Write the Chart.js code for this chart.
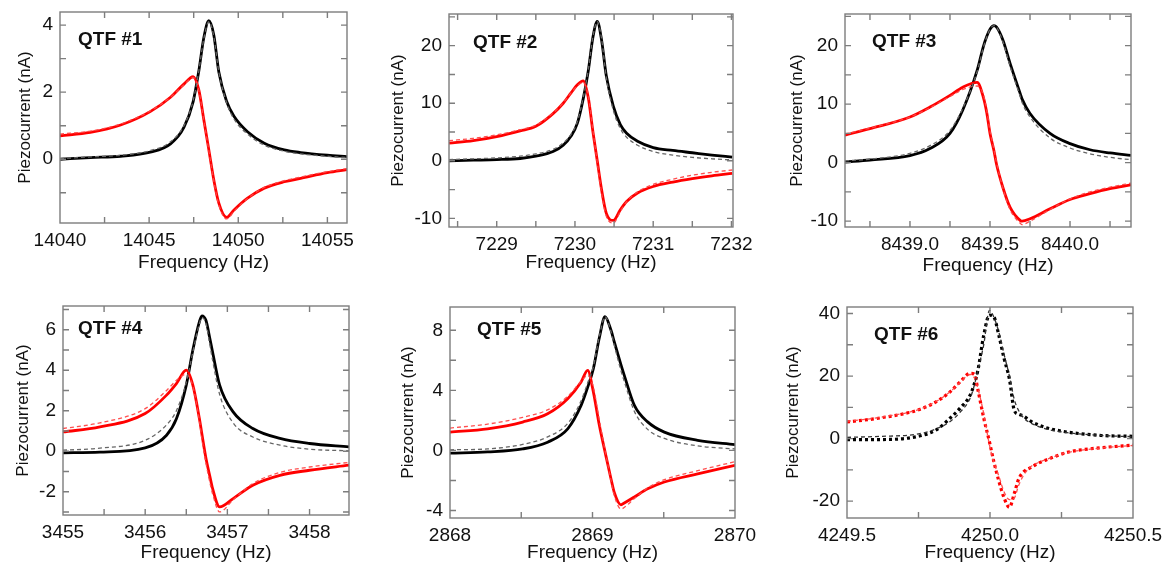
<!DOCTYPE html>
<html>
<head>
<meta charset="utf-8">
<script src="https://cdn.jsdelivr.net/npm/chart.js@4.4.1/dist/chart.umd.min.js"></script>
<style>
  body { margin: 0; background: #fff; }
  #wrap { position: relative; width: 1168px; height: 566px; overflow: hidden; }
  canvas { position: absolute; }
</style>
</head>
<body>
<div id="wrap"></div>
<script>
// QTF #1
const freq1 = [14040, 14041.7, 14043.4, 14045.06, 14046.2, 14046.95, 14047.47, 14047.79, 14048.07, 14048.35, 14048.63, 14048.91, 14049.35, 14049.76, 14050.52, 14051.46, 14052.58, 14053.5, 14055, 14056.1];
const black1 = [0.0, 0.05, 0.09, 0.21, 0.46, 0.95, 1.72, 2.64, 3.63, 4.13, 3.70, 2.60, 1.72, 1.28, 0.82, 0.48, 0.28, 0.20, 0.12, 0.08];
const red1 = [0.70, 0.80, 1.02, 1.42, 1.85, 2.24, 2.46, 2.06, 1.17, 0.28, -0.62, -1.31, -1.73, -1.51, -1.16, -0.86, -0.67, -0.57, -0.40, -0.31];
const blackFit1 = [0.02, 0.07, 0.12, 0.26, 0.52, 1.0, 1.75, 2.64, 3.6, 4.1, 3.65, 2.6, 1.68, 1.2, 0.75, 0.42, 0.24, 0.16, 0.09, 0.05];
const redFit1 = [0.75, 0.84, 1.05, 1.44, 1.85, 2.22, 2.44, 2.05, 1.15, 0.25, -0.65, -1.36, -1.78, -1.55, -1.17, -0.84, -0.64, -0.53, -0.37, -0.28];

// QTF #2
const freq2 = [7228.39, 7228.7, 7229.0, 7229.3, 7229.5, 7229.72, 7229.85, 7229.95, 7230.03, 7230.106, 7230.17, 7230.23, 7230.285, 7230.34, 7230.40, 7230.49, 7230.58, 7230.66, 7230.8, 7231.0, 7231.25, 7231.5, 7231.75, 7232.01];
const black2 = [0.0, 0.1, 0.2, 0.4, 0.8, 1.6, 2.7, 4.3, 6.5, 10.8, 15.6, 21.5, 24.2, 21.0, 14.8, 9.5, 6.3, 4.8, 3.4, 2.3, 1.8, 1.4, 1.0, 0.65];
const red2 = [3.07, 3.5, 4.2, 5.2, 6.0, 8.2, 10.0, 11.8, 13.2, 13.9, 11.0, 5.0, 0.0, -5.0, -9.1, -10.36, -8.5, -7.07, -5.6, -4.46, -3.7, -3.1, -2.6, -2.2];
const blackFit2 = [0.2, 0.35, 0.5, 0.8, 1.2, 2.0, 3.1, 4.6, 6.8, 11.0, 15.8, 21.6, 24.2, 21.2, 14.5, 8.8, 5.6, 4.1, 2.7, 1.6, 1.0, 0.6, 0.35, 0.15];
const redFit2 = [3.5, 3.9, 4.5, 5.4, 6.2, 8.3, 10.1, 11.8, 13.0, 13.6, 11.2, 5.2, -0.3, -5.5, -9.6, -10.8, -8.8, -7.1, -5.4, -4.1, -3.2, -2.5, -2.0, -1.6];

// QTF #3
const freq3 = [8438.594, 8438.75, 8439.0, 8439.125, 8439.25, 8439.33, 8439.42, 8439.458, 8439.48, 8439.5, 8439.525, 8439.54, 8439.58, 8439.625, 8439.69, 8439.70, 8439.75, 8439.875, 8440.0, 8440.125, 8440.25, 8440.381];
const black3 = [0.1, 0.45, 1.2, 2.4, 5.0, 9.0, 15.8, 19.8, 21.6, 22.8, 23.4, 23.2, 21.0, 17.0, 11.7, 10.9, 8.4, 5.0, 3.25, 2.2, 1.65, 1.25];
const red3 = [4.7, 5.8, 7.8, 9.5, 11.5, 12.9, 13.7, 11.2, 8.5, 5.0, 2.0, -0.2, -4.2, -7.6, -9.9, -10.0, -9.6, -7.9, -6.3, -5.3, -4.45, -3.8];
const blackFit3 = [0.3, 0.6, 1.6, 2.9, 5.5, 9.3, 15.6, 19.6, 21.5, 22.8, 23.4, 23.2, 20.7, 16.5, 11.2, 10.3, 7.8, 4.2, 2.5, 1.5, 0.9, 0.5];
const redFit3 = [4.9, 5.9, 7.8, 9.4, 11.3, 12.5, 13.1, 11.6, 8.9, 5.4, 2.2, 0.1, -4.3, -8.0, -10.4, -10.6, -10.0, -8.0, -6.2, -5.0, -4.2, -3.5];

// QTF #4
const freq4 = [3455, 3455.45, 3456.0, 3456.26, 3456.38, 3456.5, 3456.58, 3456.66, 3456.69, 3456.74, 3456.785, 3456.82, 3456.906, 3457.07, 3457.31, 3457.64, 3458.0, 3458.48];
const black4 = [-0.08, -0.05, 0.16, 0.79, 1.6, 3.26, 5.0, 6.4, 6.68, 6.45, 5.6, 4.9, 3.26, 1.94, 1.12, 0.63, 0.38, 0.21];
const red4 = [0.95, 1.2, 1.86, 2.77, 3.34, 4.0, 3.26, 1.6, 0.85, -0.36, -1.2, -1.84, -2.75, -2.34, -1.68, -1.19, -0.94, -0.69];
const blackFit4 = [0.05, 0.15, 0.54, 1.3, 2.0, 3.4, 4.9, 6.3, 6.6, 6.3, 5.3, 4.5, 2.8, 1.4, 0.7, 0.3, 0.1, 0.02];
const redFit4 = [1.12, 1.4, 2.1, 3.0, 3.5, 3.8, 3.2, 1.5, 0.6, -0.6, -1.5, -2.1, -3.0, -2.4, -1.6, -1.05, -0.78, -0.55];

// QTF #5
const freq5 = [2868, 2868.264, 2868.51, 2868.685, 2868.826, 2868.92, 2868.966, 2869.006, 2869.048, 2869.088, 2869.13, 2869.153, 2869.2, 2869.223, 2869.294, 2869.387, 2869.504, 2869.738, 2870];
const black5 = [-0.18, -0.1, 0.1, 0.55, 1.44, 3.0, 4.2, 5.44, 7.5, 8.9, 8.0, 7.22, 5.7, 5.0, 3.0, 1.9, 1.22, 0.67, 0.38];
const red5 = [1.22, 1.44, 1.89, 2.44, 3.44, 4.56, 5.33, 3.9, 1.67, -0.1, -1.9, -2.8, -3.62, -3.5, -3.1, -2.56, -2.1, -1.56, -1.0];
const blackFit5 = [0.04, 0.1, 0.4, 0.9, 1.8, 3.3, 4.5, 5.6, 7.6, 8.9, 7.9, 7.0, 5.3, 4.6, 2.6, 1.4, 0.8, 0.3, 0.1];
const redFit5 = [1.49, 1.75, 2.2, 2.7, 3.6, 4.6, 5.0, 4.2, 2.0, 0.0, -2.0, -3.0, -3.9, -3.8, -3.2, -2.5, -1.95, -1.35, -0.75];

// QTF #6
const freq6 = [4249.5, 4249.615, 4249.75, 4249.814, 4249.861, 4249.896, 4249.931, 4249.945, 4249.958, 4249.978, 4249.998, 4250.013, 4250.031, 4250.049, 4250.068, 4250.085, 4250.1, 4250.119, 4250.142, 4250.166, 4250.2, 4250.27, 4250.39, 4250.5];
const black6 = [-0.3, -0.3, 0.74, 2.9, 6.6, 9.8, 14.0, 17.5, 22.0, 33.0, 39.5, 39.0, 33.0, 25.7, 19.0, 9.0, 7.8, 7.1, 5.6, 4.5, 3.4, 2.1, 1.0, 0.74];
const red6 = [5.3, 6.6, 9.2, 11.9, 15.0, 18.2, 20.9, 20.6, 15.5, 6.6, -1.0, -7.2, -13.6, -18.9, -22.0, -17.5, -13.0, -10.5, -9.3, -8.0, -6.7, -4.4, -2.9, -2.1];
const blackFit6 = [0.4, 0.7, 1.5, 3.2, 5.5, 8.5, 13.0, 17.0, 22.0, 30.0, 41.0, 39.0, 34.0, 27.0, 20.0, 12.5, 9.0, 6.5, 5.0, 4.0, 3.0, 1.9, 1.0, 0.6];
const redFit6 = [5.5, 6.8, 9.3, 12.0, 15.0, 18.0, 20.5, 19.5, 16.0, 8.0, -2.0, -7.5, -12.0, -17.0, -19.5, -19.0, -15.0, -11.5, -9.0, -7.8, -6.6, -4.5, -3.0, -2.2];

const panels = [
    { label: "QTF #1", freq: freq1, black: black1, red: red1, blackFit: blackFit1, redFit: redFit1,
      x: [14040, 14056.1, 2.5, 5, 0], y: [-1.9, 4.39, 1, 2], box: [60, 12, 347, 223], yw: 45, xh: 51, tag: [18, 33] },
    { label: "QTF #2", freq: freq2, black: black2, red: red2, blackFit: blackFit2, redFit: redFit2,
      x: [7228.39, 7232.02, 0.5, 1, 0], y: [-11.5, 25.5, 5, 10], box: [449, 14, 733, 227], yw: 61, xh: 47, tag: [24, 34] },
    { label: "QTF #3", freq: freq3, black: black3, red: red3, blackFit: blackFit3, redFit: redFit3,
      x: [8438.594, 8440.381, 0.25, 0.5, 1], y: [-11, 25.4, 5, 10], box: [845, 14, 1131, 227], yw: 58, xh: 50, tag: [27, 33] },
    { label: "QTF #4", freq: freq4, black: black4, red: red4, blackFit: blackFit4, redFit: redFit4,
      x: [3455, 3458.48, 0.5, 1, 0], y: [-3.15, 7.17, 1, 2], box: [63, 306, 349, 515], yw: 50, xh: 49, tag: [15, 28] },
    { label: "QTF #5", freq: freq5, black: black5, red: red5, blackFit: blackFit5, redFit: redFit5,
      x: [2868, 2870, 0.5, 1, 0], y: [-4.5, 9.55, 2, 4], box: [450, 307, 735, 518], yw: 52, xh: 46, tag: [27, 28] },
    { label: "QTF #6", freq: freq6, black: black6, red: red6, blackFit: blackFit6, redFit: redFit6,
      x: [4249.5, 4250.5, 0.25, 0.5, 1], y: [-25.4, 42.1, 10, 20], box: [847, 307, 1133, 518], yw: 64, xh: 46, tag: [27, 33], dotted: true }
];

const PAD_T = 10, PAD_R = 34;
const TXT = "#111";

// frame with inward ticks on all four sides, plus the QTF tag
const frameTicks = {
    id: "frameTicks",
    afterDraw(chart, args, opts) {
        const { ctx, chartArea: a, scales } = chart;
        ctx.save();
        ctx.strokeStyle = "#7d7d7d";
        ctx.lineWidth = 1.4;
        ctx.strokeRect(a.left, a.top, a.right - a.left, a.bottom - a.top);
        ctx.beginPath();
        scales.x.ticks.forEach(t => {
            const px = scales.x.getPixelForValue(t.value);
            if (px <= a.left + 1 || px >= a.right - 1) return;
            ctx.moveTo(px, a.bottom); ctx.lineTo(px, a.bottom - 6);
            ctx.moveTo(px, a.top); ctx.lineTo(px, a.top + 6);
        });
        scales.y.ticks.forEach(t => {
            const py = scales.y.getPixelForValue(t.value);
            if (py <= a.top + 1 || py >= a.bottom - 1) return;
            ctx.moveTo(a.left, py); ctx.lineTo(a.left + 6, py);
            ctx.moveTo(a.right, py); ctx.lineTo(a.right - 6, py);
        });
        ctx.stroke();
        ctx.font = 'bold 19px "Liberation Sans", Arial, sans-serif';
        ctx.fillStyle = TXT;
        ctx.textBaseline = "alphabetic";
        ctx.fillText(opts.label, a.left + opts.dx, a.top + opts.dy);
        ctx.restore();
    }
};

function isMajor(v, major) {
    const r = v / major;
    return Math.abs(r - Math.round(r)) < 1e-6;
}

function toPoints(xs, ys) {
    return xs.map((x, i) => ({ x: x, y: ys[i] }));
}

const wrap = document.getElementById("wrap");

panels.forEach((p, i) => {
    const [L, T, R, B] = p.box;
    const canvas = document.createElement("canvas");
    canvas.id = "qtf" + (i + 1);
    canvas.width = R - L + p.yw + PAD_R;
    canvas.height = B - T + PAD_T + p.xh;
    canvas.style.left = (L - p.yw) + "px";
    canvas.style.top = (T - PAD_T) + "px";
    wrap.appendChild(canvas);

    const dataLine = p.dotted ? [3, 3] : [];
    const dataW = p.dotted ? 3.2 : 2.8;
    new Chart(canvas, {
        type: "line",
        data: {
            datasets: [
                { label: "fit X", data: toPoints(p.freq, p.blackFit), borderColor: p.dotted ? "#333" : "#666",
                  borderWidth: 1.3, borderDash: [4, 3], pointRadius: 0, cubicInterpolationMode: "monotone" },
                { label: "fit Y", data: toPoints(p.freq, p.redFit), borderColor: "rgba(255, 70, 70, 0.95)",
                  borderWidth: 1.3, borderDash: [4, 3], pointRadius: 0, cubicInterpolationMode: "monotone" },
                { label: "Y", data: toPoints(p.freq, p.red), borderColor: "#ff0000",
                  borderWidth: dataW, borderDash: dataLine, pointRadius: 0, cubicInterpolationMode: "monotone" },
                { label: "X", data: toPoints(p.freq, p.black), borderColor: "#000",
                  borderWidth: dataW, borderDash: dataLine, pointRadius: 0, cubicInterpolationMode: "monotone" }
            ]
        },
        plugins: [frameTicks],
        options: {
            responsive: false,
            animation: false,
            layout: { padding: { top: PAD_T, right: PAD_R, left: 0, bottom: 0 } },
            plugins: {
                legend: { display: false },
                tooltip: { enabled: false },
                frameTicks: { label: p.label, dx: p.tag[0], dy: p.tag[1] }
            },
            scales: {
                x: {
                    type: "linear", min: p.x[0], max: p.x[1],
                    afterFit(s) { s.height = p.xh; s.paddingLeft = 0; s.paddingRight = 0; },
                    grid: { display: false, drawTicks: false },
                    border: { display: false },
                    ticks: {
                        stepSize: p.x[2], includeBounds: false, autoSkip: false, maxRotation: 0,
                        padding: 6, color: TXT,
                        font: { family: '"Liberation Sans", Arial, sans-serif', size: 19 },
                        callback: v => isMajor(v, p.x[3]) ? v.toFixed(p.x[4]) : ""
                    },
                    title: { display: true, text: "Frequency (Hz)", padding: 0, color: TXT,
                             font: { family: '"Liberation Sans", Arial, sans-serif', size: 19 } }
                },
                y: {
                    min: p.y[0], max: p.y[1],
                    afterFit(s) { s.width = p.yw; s.paddingTop = 0; s.paddingBottom = 0; },
                    grid: { display: false, drawTicks: false },
                    border: { display: false },
                    ticks: {
                        stepSize: p.y[2], includeBounds: false, autoSkip: false,
                        padding: 7, color: TXT,
                        font: { family: '"Liberation Sans", Arial, sans-serif', size: 19 },
                        callback: v => isMajor(v, p.y[3]) ? String(Math.round(v)) : ""
                    },
                    title: { display: true, text: "Piezocurrent (nA)", padding: 0, color: TXT,
                             font: { family: '"Liberation Sans", Arial, sans-serif', size: 17 } }
                }
            }
        }
    });
});
</script>
</body>
</html>
